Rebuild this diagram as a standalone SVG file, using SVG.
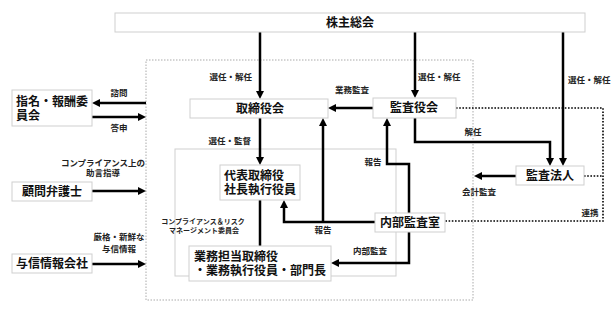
<svg xmlns="http://www.w3.org/2000/svg" width="616" height="312" viewBox="0 0 616 312">
<style>
.box{fill:#fff;stroke:#cfcfcf;stroke-width:1}
.t{font-family:"Liberation Sans","Noto Sans CJK JP",sans-serif;font-size:12px;font-weight:bold;fill:#111;dominant-baseline:central}
.s{font-family:"Liberation Sans","Noto Sans CJK JP",sans-serif;font-size:8.5px;font-weight:bold;fill:#222;dominant-baseline:central}
.xs{font-size:7px}
.m{text-anchor:middle}
.e{text-anchor:end}
.a{fill:none;stroke:#000;stroke-width:2.5}
.dot{fill:none;stroke:#000;stroke-width:1.6;stroke-dasharray:1.6 1.6}
.gdot{fill:none;stroke:#aaa;stroke-width:1;stroke-dasharray:1.5 1.5}
.inner{fill:none;stroke:#cfcfcf;stroke-width:1}
</style>
<defs>
<marker id="ah" markerUnits="userSpaceOnUse" markerWidth="8" markerHeight="8" viewBox="0 0 8 8" refX="4" refY="4" orient="auto">
<path d="M0,0 L8,4 L0,8 z" fill="#000"/>
</marker>
</defs>
<rect width="616" height="312" fill="#fff"/>
<g id="frames">
<rect class="gdot" x="146" y="60" width="327" height="240"/>
<rect class="inner" x="175" y="149" width="221" height="127"/>
<text class="s xs m" x="203" y="221">コンプライアンス＆リスク<tspan x="204" y="230">マネージメント委員会</tspan></text>
</g>
<g id="connectors">
<path class="a" d="M260,32 V95" marker-end="url(#ah)"/>
<path class="a" d="M415,32 V94" marker-end="url(#ah)"/>
<path class="a" d="M563,32 V162" marker-end="url(#ah)"/>
<path class="a" d="M415,118 V142 H550 V162" marker-end="url(#ah)"/>
<path class="a" d="M373,108 H332" marker-end="url(#ah)"/>
<path class="a" d="M260,118 V161" marker-end="url(#ah)"/>
<path class="a" d="M260,200 V246"/>
<path class="a" d="M375,222 H284 V204" marker-end="url(#ah)"/>
<path class="a" d="M323,222 V122" marker-end="url(#ah)"/>
<path class="a" d="M409,213 V164 H387 V122" marker-end="url(#ah)"/>
<path class="a" d="M409,232 V263 H335" marker-end="url(#ah)"/>
<path class="a" d="M516,176 H478" marker-end="url(#ah)"/>
<path class="a" d="M146,103 H96" marker-end="url(#ah)"/>
<path class="a" d="M92,117 H142" marker-end="url(#ah)"/>
<path class="a" d="M92,191 H142" marker-end="url(#ah)"/>
<path class="a" d="M92,264 H142" marker-end="url(#ah)"/>
<path class="dot" d="M456,108 H603 V221 H445"/>
<path class="dot" d="M584,176 H603"/>
<text class="s e" x="252" y="77">選任・解任</text>
<text class="s" x="418" y="77">選任・解任</text>
<text class="s" x="568" y="80">選任・解任</text>
<text class="s m" x="352" y="90">業務監査</text>
<text class="s m" x="473" y="132">解任</text>
<text class="s e" x="251" y="141">選任・監督</text>
<text class="s m" x="373" y="162">報告</text>
<text class="s m" x="323" y="230">報告</text>
<text class="s m" x="370" y="251">内部監査</text>
<text class="s m" x="479" y="192">会計監査</text>
<text class="s m" x="590" y="213">連携</text>
<text class="s m" x="119" y="93">諮問</text>
<text class="s m" x="119" y="128">答申</text>
<text class="s m" x="103" y="163">コンプライアンス上の<tspan x="103" y="173">助言指導</tspan></text>
<text class="s m" x="119" y="237">厳格・新鮮な<tspan x="119" y="249">与信情報</tspan></text>
</g>
<g id="shareholders">
<rect class="box" x="115" y="13" width="470" height="19"/>
<text class="t m" x="350" y="22.5">株主総会</text>
</g>
<g id="board">
<rect class="box" x="190" y="99" width="138" height="19"/>
<text class="t m" x="260" y="108.5">取締役会</text>
</g>
<g id="auditboard">
<rect class="box" x="373" y="98" width="83" height="20"/>
<text class="t m" x="414" y="108">監査役会</text>
</g>
<g id="nomination">
<rect class="box" x="12" y="90" width="80" height="36"/>
<text class="t" x="16" y="102">指名・報酬委<tspan x="16" y="116">員会</tspan></text>
</g>
<g id="ceo">
<rect class="box" x="220" y="165" width="80" height="35"/>
<text class="t" x="224" y="176">代表取締役<tspan x="224" y="190">社長執行役員</tspan></text>
</g>
<g id="executives">
<rect class="box" x="189" y="246" width="142" height="35"/>
<text class="t" x="194" y="257">業務担当取締役<tspan x="194" y="271">・業務執行役員・部門長</tspan></text>
</g>
<g id="internalaudit">
<rect class="box" x="375" y="213" width="70" height="19"/>
<text class="t m" x="410" y="222.5">内部監査室</text>
</g>
<g id="auditor">
<rect class="box" x="516" y="166" width="68" height="19"/>
<text class="t m" x="550" y="175.5">監査法人</text>
</g>
<g id="lawyer">
<rect class="box" x="12" y="182" width="80" height="19"/>
<text class="t m" x="52" y="191.5">顧問弁護士</text>
</g>
<g id="credit">
<rect class="box" x="12" y="254" width="80" height="19"/>
<text class="t m" x="52" y="263.5">与信情報会社</text>
</g>
</svg>
